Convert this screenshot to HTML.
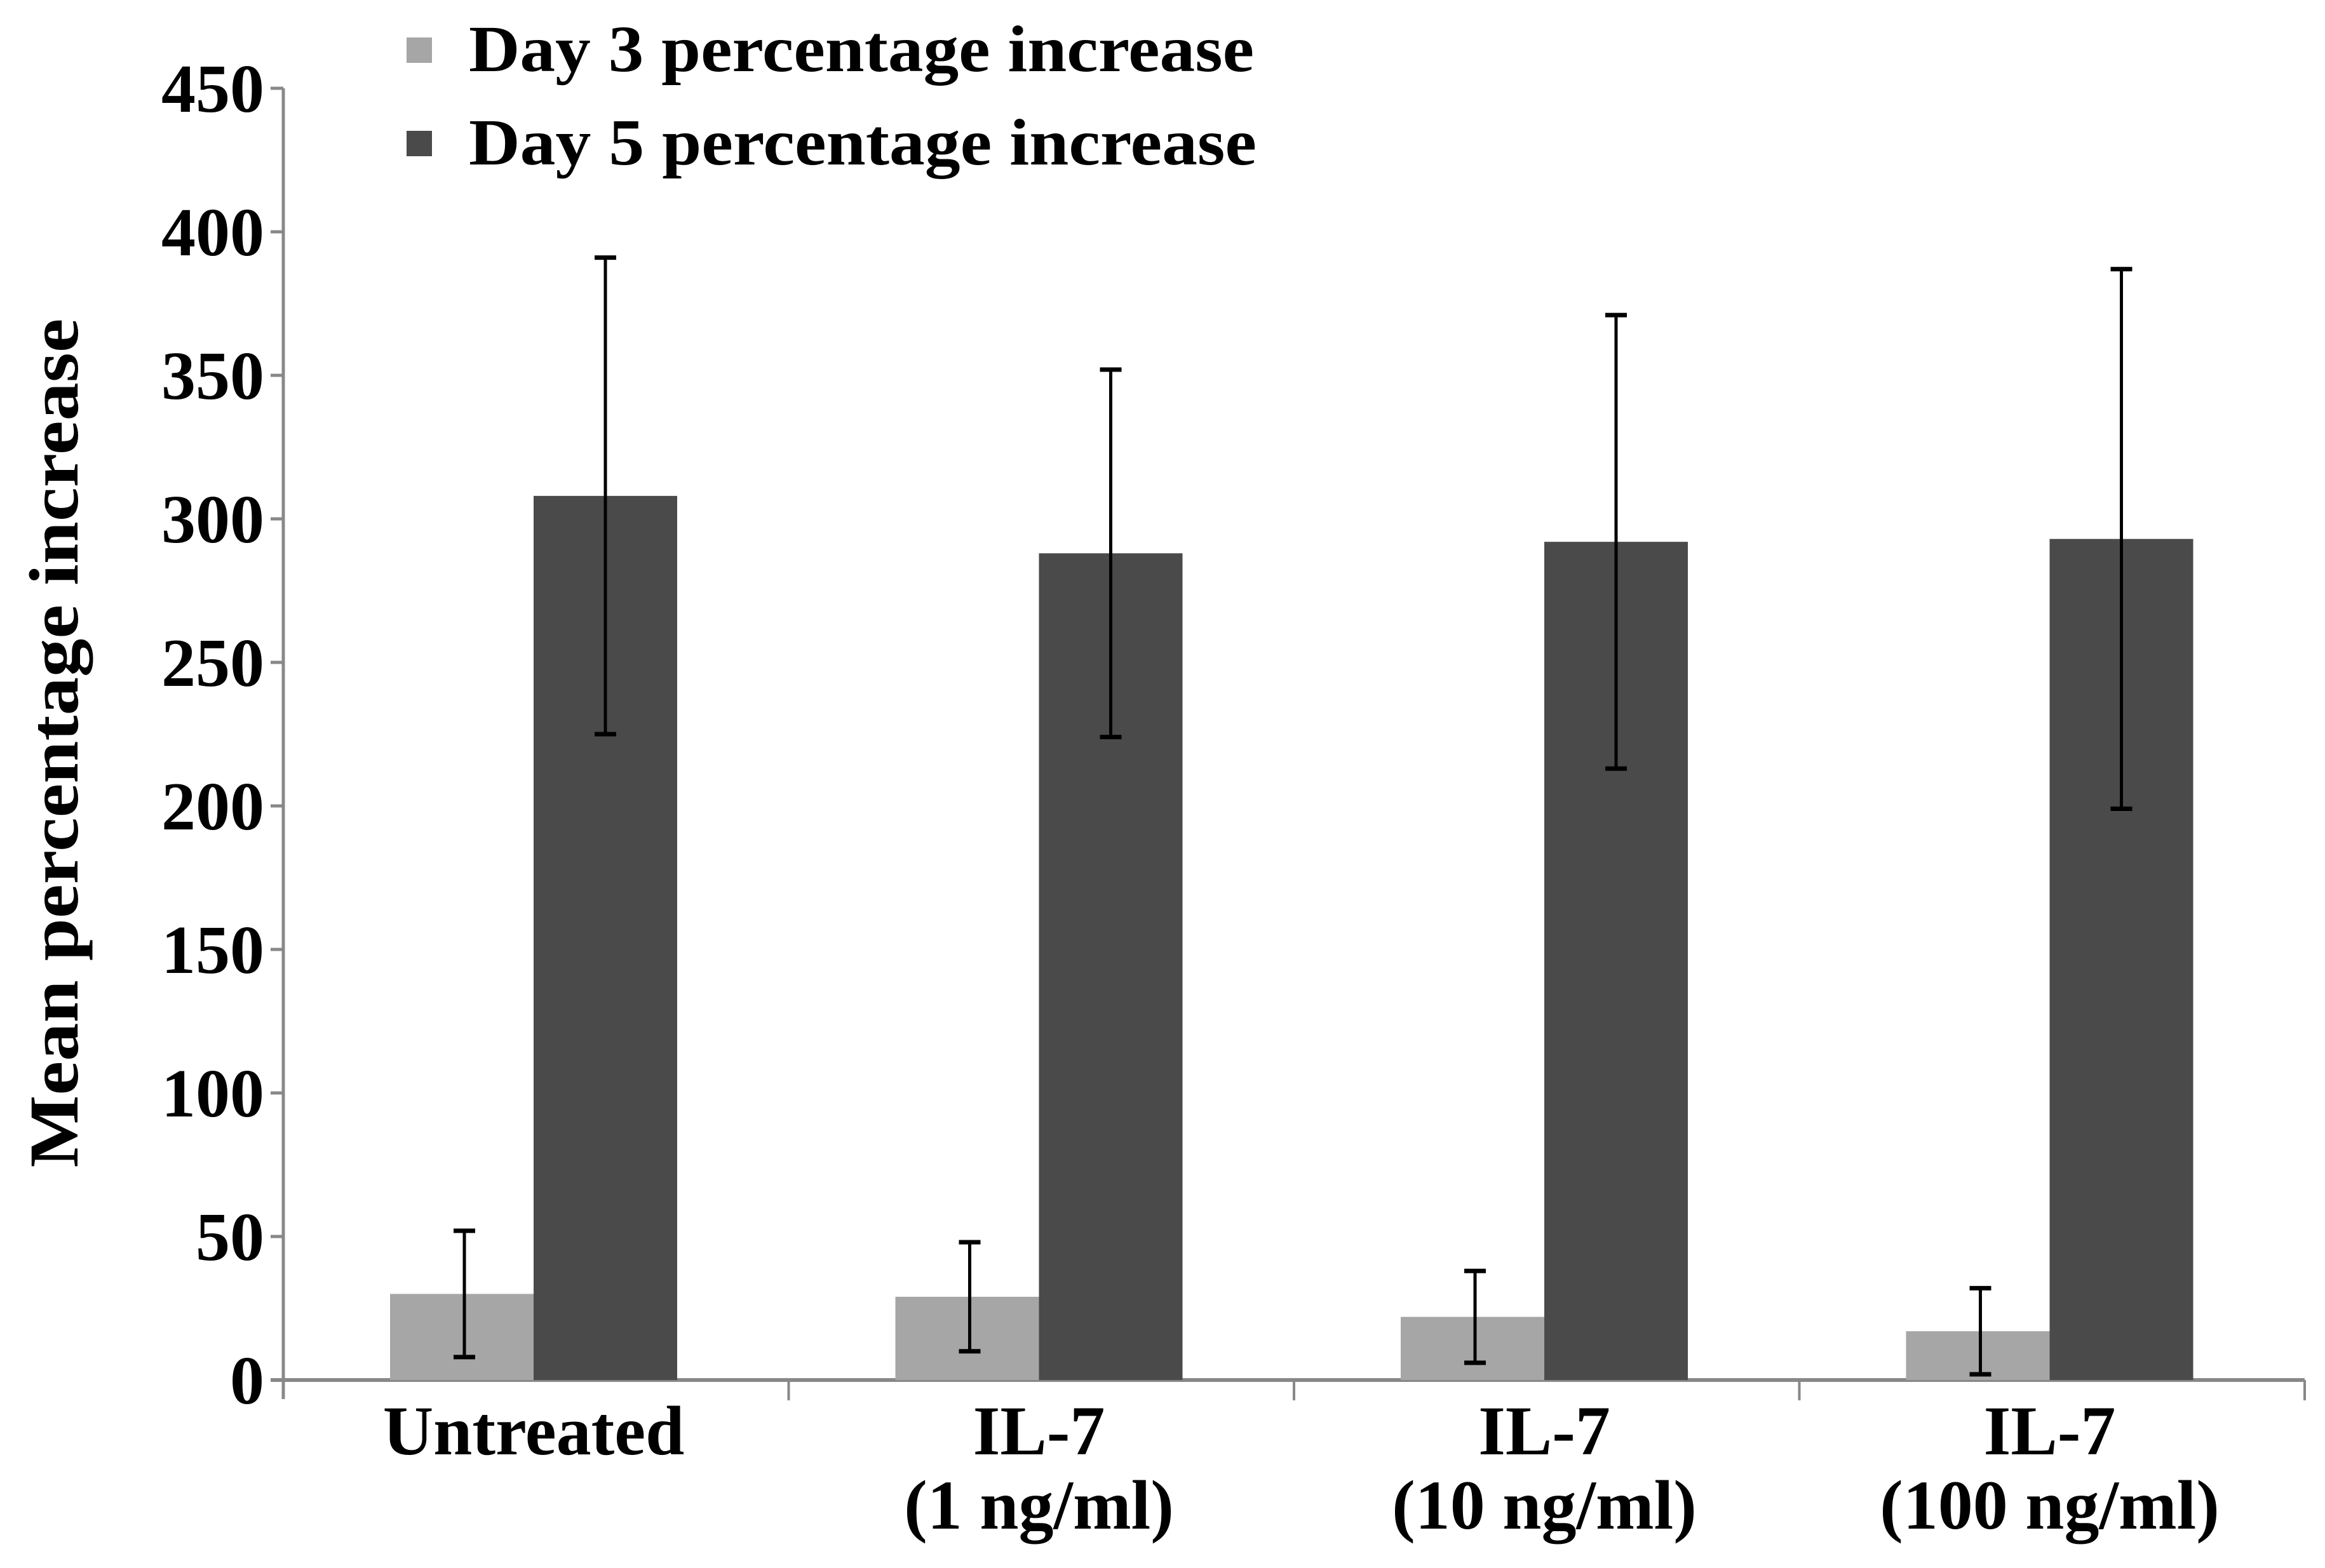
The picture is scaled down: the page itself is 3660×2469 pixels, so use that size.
<!DOCTYPE html>
<html><head><meta charset="utf-8"><style>html,body{margin:0;padding:0;background:#fff}svg{display:block}text{font-family:"Liberation Serif",serif;font-weight:bold;fill:#000}</style></head>
<body>
<svg id="chart" width="3660" height="2469" viewBox="0 0 3660 2469" xmlns="http://www.w3.org/2000/svg">
<g id="axes"></g><g id="bars"></g><g id="errs"></g>
<g>
<rect x="640" y="59" width="40" height="40" fill="#a6a6a6"/>
<text x="738" y="112" font-size="104" textLength="1236" lengthAdjust="spacingAndGlyphs">Day 3 percentage increase</text>
<rect x="640" y="206" width="40" height="40" fill="#4a4a4a"/>
<text x="738" y="259" font-size="104" textLength="1240" lengthAdjust="spacingAndGlyphs">Day 5 percentage increase</text>
</g>
<text transform="translate(122,1170) rotate(-90)" text-anchor="middle" font-size="110" textLength="1337" lengthAdjust="spacingAndGlyphs">Mean percentage increase</text>
</svg>
<script>
const categories = [["Untreated"],["IL-7","(1 ng/ml)"],["IL-7","(10 ng/ml)"],["IL-7","(100 ng/ml)"]];
const day3 = [30, 29, 22, 17];
const day3Err = [22, 19, 16, 15];
const day5 = [308, 288, 292, 293];
const day5Err = [83, 64, 79, 94];
const yTicks = [0,50,100,150,200,250,300,350,400,450];

const NS="http://www.w3.org/2000/svg";
const X0=446, X1=3628, Y0=2173, YTOP=139, YMAX=450;
const catW=(X1-X0)/categories.length;
function y(v){return Y0-(v/YMAX)*(Y0-YTOP);}
function mk(tag,attrs,parent){const e=document.createElementNS(NS,tag);for(const k in attrs)e.setAttribute(k,attrs[k]);parent.appendChild(e);return e;}
const axes=document.getElementById('axes'),bars=document.getElementById('bars'),errs=document.getElementById('errs');
let yl=mk('line',{x1:X0,y1:y(YMAX),x2:X0,y2:Y0+30,stroke:'#888','stroke-width':5},axes);


yTicks.forEach(t=>{
  const l=mk('line',{x1:X0-20,y1:y(t),x2:X0,y2:y(t),stroke:'#888','stroke-width':5},axes);
  
  
  const tx=mk('text',{x:X0-30,y:y(t)+37,'text-anchor':'end','font-size':108},axes);
  
  
  tx.textContent=t;
});
let xl=mk('line',{x1:X0-20,y1:Y0,x2:X1,y2:Y0,stroke:'#888','stroke-width':6},axes);


for(let i=1;i<=categories.length;i++){
  const l=mk('line',{x1:X0+i*catW,y1:Y0,x2:X0+i*catW,y2:Y0+32,stroke:'#888','stroke-width':4},axes);
  
  
}
const off=168,bw=226;
function errBar(cx,m,e){
  const g=mk('g',{},errs);
  
  
  const lo=Math.max(0,m-e),hi=m+e;
  mk('line',{x1:cx,y1:y(hi),x2:cx,y2:y(lo),stroke:'#000','stroke-width':5},g);
  mk('line',{x1:cx-17,y1:y(hi),x2:cx+17,y2:y(hi),stroke:'#000','stroke-width':7},g);
  mk('line',{x1:cx-17,y1:y(lo),x2:cx+17,y2:y(lo),stroke:'#000','stroke-width':7},g);
}
categories.forEach((c,i)=>{
  const sx=X0+i*catW+off;
  const r3=mk('rect',{x:sx,y:y(day3[i]),width:bw,height:Y0-y(day3[i]),fill:'#a6a6a6'},bars);
  
  
  const r5=mk('rect',{x:sx+bw,y:y(day5[i]),width:bw,height:Y0-y(day5[i]),fill:'#4a4a4a'},bars);
  
  
  errBar(sx+bw/2+4,day3[i],day3Err[i]);
  errBar(sx+bw*1.5,day5[i],day5Err[i]);
  c.forEach((line,j)=>{
    const t=mk('text',{x:sx+bw,y:2290+j*117,'text-anchor':'middle','font-size':110},axes);
    
    
    t.textContent=line;
  });
});
</script>
</body></html>
